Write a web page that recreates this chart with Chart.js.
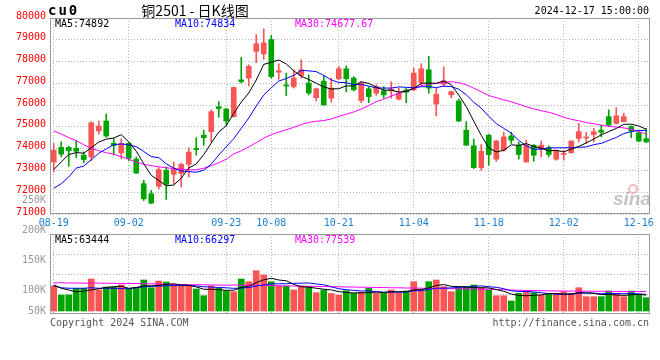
<!DOCTYPE html>
<html>
<head>
<meta charset="utf-8">
<script src="https://cdn.jsdelivr.net/npm/chart.js@4.4.1/dist/chart.umd.min.js"></script>
<style>
html, body { margin: 0; padding: 0; background: #fff; }
#wrap { position: relative; width: 660px; height: 360px; overflow: hidden; }
#main { position: absolute; left: 0; top: 0; }
#vol { position: absolute; left: 0; top: 190px; }
</style>
</head>
<body>
<div id="wrap">
  <canvas id="main" width="660" height="232"></canvas>
  <canvas id="vol" width="660" height="170"></canvas>
</div>
<script>
// ---- data ----
var symbol = 'cu0';
var title = '铜2501 - 日K线图';
var stamp = '2024-12-17 15:00:00';

var dates = [
  '08-19','08-20','08-21','08-22','08-23','08-26','08-27','08-28','08-29','08-30',
  '09-02','09-03','09-04','09-05','09-06','09-09','09-10','09-11','09-12','09-13',
  '09-18','09-19','09-20','09-23','09-24','09-25','09-26','09-27','09-30',
  '10-08','10-09','10-10','10-11','10-14','10-15','10-16','10-17','10-18',
  '10-21','10-22','10-23','10-24','10-25','10-28','10-29','10-30','10-31',
  '11-01','11-04','11-05','11-06','11-07','11-08','11-11','11-12','11-13','11-14','11-15',
  '11-18','11-19','11-20','11-21','11-22','11-25','11-26','11-27','11-28','11-29',
  '12-02','12-03','12-04','12-05','12-06','12-09','12-10','12-11','12-12','12-13',
  '12-16','12-17'
];
var tickDates = ['08-19','09-02','09-23','10-08','10-21','11-04','11-18','12-02','12-16'];

var openP = [
  73390,74060,74060,74020,73700,73620,74820,75270,74250,73810,
  74240,73520,72390,71930,72270,73010,72820,72860,73280,74020,
  74620,74780,75930,75820,75470,77160,77240,78470,78350,79010,
  77510,76930,76850,77360,77010,76340,77100,76320,77210,77670,
  77240,76210,76750,76550,76650,76650,76270,76700,76700,77040,
  77620,76050,76960,76470,76190,74850,74130,73130,74620,73520,
  73930,74580,74160,73390,74160,73980,74040,73520,73730,73820,
  74470,74490,74650,74850,75470,75160,75240,75010,74730,74460
];
var highP = [
  74240,74310,74120,74390,73850,75240,75270,75590,74470,74450,
  74270,73620,72550,72090,73130,73160,73390,73340,74040,74500,
  74850,75780,76160,75860,76830,78190,77850,79240,79500,79200,
  77900,77470,77620,78080,77390,76780,77350,77240,77780,77800,
  77310,77080,76850,76930,76850,77080,76780,76780,77700,77900,
  78240,76780,77750,76640,76280,75240,74440,74190,74660,74390,
  74750,74750,74290,74390,74190,74350,74130,73930,73930,74360,
  75160,74750,74930,75080,75780,75880,75620,75050,74780,74930
];
var lowP = [
  72930,73620,73190,73590,73350,73440,74670,74520,73710,73530,
  73440,72860,71620,71470,72150,71660,72390,72240,72700,73700,
  74160,74310,75440,75080,75440,77010,76880,77950,78100,77240,
  77190,76440,76780,77240,76470,76190,75980,76130,77160,76620,
  76650,76110,76110,76440,76320,76320,76240,76110,76650,76900,
  76550,75500,76850,76340,75240,74150,73090,73010,73240,73420,
  73880,74240,73520,73380,73420,73620,73620,73470,73470,73780,
  74310,74240,74310,74540,75010,75120,75230,74500,74310,74280
];
var closeP = [
  73930,73750,73900,73880,73500,75190,75040,74580,74150,74240,
  73560,72880,71700,71500,73040,72360,73050,73280,73840,73960,
  74500,75700,75840,75270,76810,77080,77780,78820,78860,77310,
  77580,76880,77240,77620,76550,76750,76010,76780,77670,77210,
  76700,77010,76390,76850,76470,76730,76550,76590,77470,77670,
  76780,76500,77120,76620,75270,74160,73130,73880,73730,74350,
  74540,74390,73730,74160,73700,74160,73730,73880,73780,74350,
  74780,74520,74780,74750,75080,75510,75470,74810,74350,74310
];

var ma5 = [
  73040,73390,73730,73820,73792,74044,74302,74438,74492,74640,
  74314,73882,73306,72776,72536,72296,72330,72646,73114,73298,
  73726,74256,74768,75054,75624,76140,76556,77152,77870,77970,
  78070,77890,77574,77326,77174,77008,76834,76742,76752,76884,
  76874,77074,76996,76832,76684,76690,76598,76638,76762,77002,
  77012,77002,77108,76938,76458,75934,75260,74612,74034,73850,
  73926,74178,74148,74234,74104,74028,73896,73926,73850,73980,
  74104,74262,74442,74636,74782,74928,75118,75124,75044,74892
];
var ma10 = [
  72180,72390,72700,73110,73200,73490,73790,73990,74180,74216,
  74179,74092,73872,73634,73588,73305,73106,72976,72945,72917,
  73011,73293,73707,74084,74461,74933,75406,75960,76462,76797,
  77105,77223,77363,77598,77572,77539,77362,77158,77039,77029,
  76941,76954,76869,76792,76784,76782,76836,76817,76797,76843,
  76851,76800,76873,76850,76730,76473,76131,75860,75486,75154,
  74930,74719,74380,74134,73977,73977,74037,74037,74042,74042,
  74066,74079,74184,74243,74381,74516,74690,74783,74840,74834
];
var ma30 = [
  74807,74669,74507,74369,74184,74009,73907,73815,73746,73631,
  73515,73377,73285,73215,73169,73123,73086,73054,73031,73031,
  73100,73215,73354,73515,73760,73900,74080,74280,74480,74643,
  74765,74869,74981,75105,75207,75259,75291,75365,75482,75581,
  75686,75823,75980,76158,76272,76418,76535,76645,76766,76890,
  76966,76992,77035,77080,77029,76931,76776,76612,76441,76342,
  76241,76158,76041,75925,75830,75744,75668,75571,75442,75346,
  75282,75199,75146,75076,75029,74989,74953,74894,74790,74677.67
];

var vol = [
  100000,64000,64000,90800,90800,128000,84000,96000,96000,104000,
  88000,93200,124000,93200,120000,116000,104000,101200,101200,88000,
  61200,100000,90800,80000,77200,128000,117200,161200,144000,117200,
  100000,100000,84000,100000,97200,73200,84000,70000,64000,81200,
  70800,74800,90800,70800,70800,84000,70800,80000,117200,84000,
  117200,124000,97200,77200,93200,97200,104000,93200,84000,61200,
  61200,40000,70800,77200,73200,64000,70800,70800,77200,70800,
  93200,57200,57200,57200,80000,68000,57200,80000,64000,53200
];
var volMa5 = [
  104000,90800,84000,77200,79500,84400,89000,94400,97000,99400,
  90800,94300,100500,100800,102500,106600,109000,104000,103000,96500,
  87000,87000,85500,82600,83000,94200,99300,113700,124700,131000,
  124000,121000,106500,97000,95500,90900,87300,84500,77500,73900,
  72400,72700,73500,75500,74400,76500,77300,77600,84300,85600,
  92300,102000,106000,98500,98000,96300,93500,93100,92500,86000,
  79000,68000,62300,61000,62800,64500,69600,70200,67600,67400,
  73700,72300,71000,65500,66500,64000,62500,64800,67000,63444
];
var volMa10 = [
  101000,93000,91000,91000,91000,93000,91000,91000,91000,90000,
  89000,93000,97000,98500,100000,101000,102000,102500,102500,100000,
  97000,96000,94000,93000,90500,92000,94000,100000,104500,108500,
  109000,109000,110800,111500,112000,108000,105000,97000,89000,85400,
  82400,79900,80600,77700,75000,76100,74800,75800,81100,81400,
  86000,91000,91600,92200,94500,95800,99100,100400,97100,94800,
  89200,80800,78200,78200,76200,72900,69600,67300,66600,67600,
  70800,72500,71200,69200,69800,70200,68900,69800,68500,66297
];
var volMa30 = [
  112000,113000,112000,112000,111000,112000,112000,111000,111000,110000,
  110000,110000,109000,109000,108000,107000,106000,106000,105000,105000,
  105000,104000,104000,103000,104000,103000,103000,103000,102000,102000,
  101000,100000,100000,99000,99000,98000,98000,97000,97000,96000,
  96000,95000,95000,94000,94000,93000,93000,92000,92000,91000,
  91000,90000,90000,89000,89000,88000,88000,87000,87000,86000,
  85000,84000,83000,82000,82000,81000,81000,80000,80000,79800,
  79500,79200,79000,78700,78400,78200,78000,77800,77700,77539
];
var volTicks = [50000, 100000, 150000, 200000, 250000];

// ---- styling ----
var upColor = '#f85555';
var downColor = '#00a400';
var gridColor = '#b4b4b4';
var frameColor = '#999999';
var monoFont = '"DejaVu Sans Mono", monospace';

var candleColors = closeP.map(function (c, i) { return c >= openP[i] ? upColor : downColor; });
var wicks = lowP.map(function (l, i) { return [l, highP[i]]; });
var bodies = openP.map(function (o, i) { return [o, closeP[i]]; });

function keepDateTicks(scale) {
    scale.ticks = scale.ticks.filter(function (t) {
        return tickDates.indexOf(dates[t.value]) >= 0;
    });
}

function fmt(v) {
    return Number.isInteger(v) ? String(v) : v.toFixed(2);
}

function lineSet(data, color, axis) {
    return {
        type: 'line',
        data: data,
        yAxisID: axis,
        borderColor: color,
        borderWidth: 1,
        pointRadius: 0,
        tension: 0,
        order: 0
    };
}

function drawLegend(ctx, x, y, items) {
    ctx.font = '10px ' + monoFont;
    ctx.textAlign = 'left';
    ctx.textBaseline = 'middle';
    items.forEach(function (it, k) {
        var arr = it[1];
        ctx.fillStyle = it[2];
        ctx.fillText(it[0] + ':' + fmt(arr[arr.length - 1]), x + k * 120, y);
    });
}

var framePlugin = {
    id: 'frame',
    afterDraw: function (chart) {
        var a = chart.chartArea, ctx = chart.ctx;
        ctx.save();
        ctx.strokeStyle = frameColor;
        ctx.lineWidth = 1;
        ctx.strokeRect(Math.round(a.left) + 0.5, Math.round(a.top) + 0.5,
            Math.round(a.right - a.left) - 1, Math.round(a.bottom - a.top) - 1);
        ctx.restore();
    }
};

var mainText = {
    id: 'mainText',
    afterDraw: function (chart) {
        var ctx = chart.ctx, a = chart.chartArea;
        ctx.save();
        ctx.textBaseline = 'middle';
        ctx.fillStyle = '#000';
        ctx.font = 'bold 14px ' + monoFont;
        ctx.letterSpacing = '2px';
        ctx.textAlign = 'left';
        ctx.fillText(symbol, a.left - 2, 11);
        ctx.letterSpacing = '0px';
        ctx.font = '14px "Noto Sans CJK SC"';
        ctx.textAlign = 'center';
        ctx.fillText(title, 195, 11);
        ctx.font = '10px ' + monoFont;
        ctx.textAlign = 'right';
        ctx.fillText(stamp, a.right - 1, 11);

        drawLegend(ctx, a.left + 5, a.top + 6, [
            ['MA5', ma5, '#000000'], ['MA10', ma10, '#0000ff'], ['MA30', ma30, '#ff00ff']
        ]);

        // faint sina watermark
        ctx.font = 'italic bold 19px "Liberation Sans"';
        ctx.fillStyle = 'rgba(150,150,150,0.55)';
        ctx.textAlign = 'right';
        ctx.fillText('sina', a.right + 1, a.bottom - 14);
        ctx.strokeStyle = 'rgba(235,120,120,0.5)';
        ctx.lineWidth = 2;
        ctx.beginPath();
        ctx.arc(a.right - 17, a.bottom - 25, 4, 0, Math.PI * 2);
        ctx.stroke();
        ctx.restore();
    }
};

var volText = {
    id: 'volText',
    afterDraw: function (chart) {
        var ctx = chart.ctx, a = chart.chartArea;
        ctx.save();
        drawLegend(ctx, a.left + 5, a.top + 6, [
            ['MA5', volMa5, '#000000'], ['MA10', volMa10, '#0000ff'], ['MA30', volMa30, '#ff00ff']
        ]);
        ctx.fillStyle = '#555';
        ctx.textBaseline = 'middle';
        ctx.textAlign = 'left';
        ctx.fillText('Copyright 2024 SINA.COM', a.left, a.bottom + 9);
        ctx.textAlign = 'right';
        ctx.fillText('http://finance.sina.com.cn', a.right - 1, a.bottom + 9);
        ctx.restore();
    }
};

Chart.defaults.font.family = monoFont;
Chart.defaults.font.size = 10;

new Chart(document.getElementById('main'), {
    type: 'bar',
    plugins: [framePlugin, mainText],
    data: {
        labels: dates,
        datasets: [
            lineSet(ma5, '#000000', 'y'),
            lineSet(ma10, '#0000ff', 'y'),
            lineSet(ma30, '#ff00ff', 'y'),
            {
                data: wicks,
                backgroundColor: candleColors,
                barThickness: 1,
                grouped: false,
                order: 2
            },
            {
                data: bodies,
                backgroundColor: candleColors,
                barThickness: 5,
                minBarLength: 1,
                grouped: false,
                order: 1
            }
        ]
    },
    options: {
        responsive: false,
        animation: false,
        layout: { padding: { top: 18, right: 10, left: 0, bottom: 0 } },
        plugins: { legend: { display: false }, tooltip: { enabled: false } },
        scales: {
            x: {
                type: 'category',
                offset: true,
                grid: { offset: false, color: gridColor, drawTicks: false },
                border: { display: false, dash: [1, 2] },
                ticks: {
                    autoSkip: false,
                    maxRotation: 0,
                    color: '#1a7fd4',
                    padding: 3,
                    font: { family: monoFont, size: 10 }
                },
                afterBuildTicks: keepDateTicks,
                afterFit: function (s) { s.height = 18; }
            },
            y: {
                min: 71000,
                max: 80000,
                grid: { color: gridColor, drawTicks: false },
                border: { display: false, dash: [1, 2] },
                ticks: {
                    stepSize: 1000,
                    color: '#ff0000',
                    padding: 4,
                    labelOffset: -2,
                    font: { family: monoFont, size: 10 },
                    callback: function (v) { return String(v); }
                },
                afterFit: function (s) { s.width = 50; }
            }
        }
    }
});

new Chart(document.getElementById('vol'), {
    type: 'bar',
    plugins: [framePlugin, volText],
    data: {
        labels: dates,
        datasets: [
            lineSet(volMa5, '#000000', 'yv'),
            lineSet(volMa10, '#0000ff', 'yv'),
            lineSet(volMa30, '#ff00ff', 'yv'),
            {
                data: vol,
                yAxisID: 'yv',
                backgroundColor: candleColors,
                barThickness: 6,
                order: 1
            }
        ]
    },
    options: {
        responsive: false,
        animation: false,
        layout: { padding: { top: 44, right: 10, left: 0, bottom: 46 } },
        plugins: { legend: { display: false }, tooltip: { enabled: false } },
        scales: {
            x: {
                type: 'category',
                offset: true,
                grid: { offset: false, color: gridColor, drawTicks: false },
                border: { display: false, dash: [1, 2] },
                ticks: { display: false },
                afterBuildTicks: keepDateTicks,
                afterFit: function (s) { s.height = 0; }
            },
            yv: {
                position: 'left',
                min: -12000,
                max: 308000,
                grid: { color: gridColor, drawTicks: false },
                border: { display: false, dash: [1, 2] },
                ticks: { display: false },
                afterBuildTicks: function (s) {
                    s.ticks = [1, 2, 3].map(function (k) {
                        return { value: s.min + (s.max - s.min) * k / 4 };
                    });
                },
                afterFit: function (s) { s.width = 0; }
            },
            yl: {
                position: 'left',
                min: 60000,
                max: 193333,
                grid: { display: false, drawTicks: false },
                border: { display: false },
                ticks: {
                    autoSkip: false,
                    color: '#999999',
                    padding: 4,
                    font: { family: monoFont, size: 10, lineHeight: 1.8 },
                    callback: function (v) {
                        var s = (v / 1000) + 'K';
                        return v === volTicks[0] ? [s, ''] : s;
                    }
                },
                afterBuildTicks: function (s) {
                    s.ticks = volTicks.map(function (v) { return { value: v }; });
                },
                afterFit: function (s) { s.width = 50; }
            }
        }
    }
});
</script>
</body>
</html>
